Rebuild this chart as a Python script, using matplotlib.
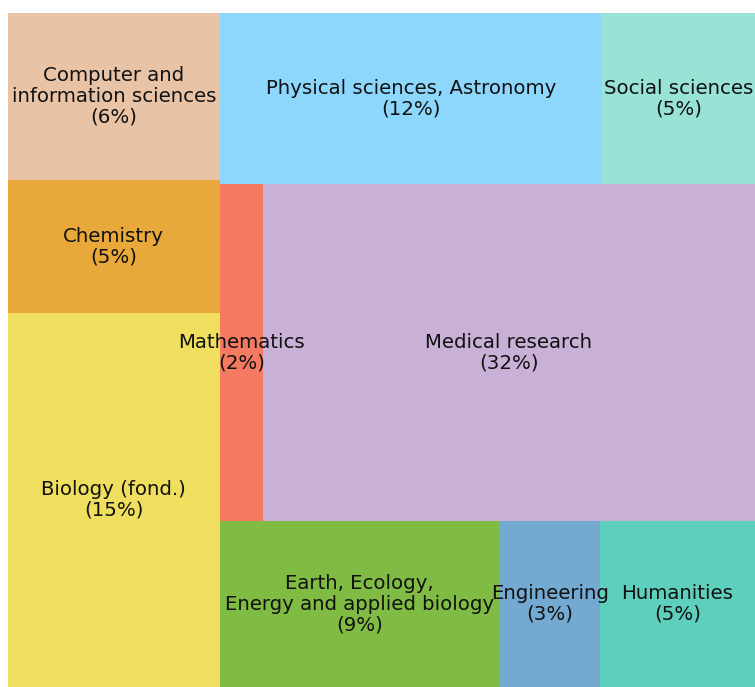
import matplotlib
matplotlib.use("Agg")
import matplotlib.pyplot as plt
from matplotlib.patches import Rectangle

# left column, top to bottom
left_names = ["Computer and\ninformation sciences", "Chemistry", "Biology (fond.)"]
left_sizes = [7.0, 5.6, 15.7]
left_pct = [6, 5, 15]
left_colors = ["#E8C3A6", "#E8A83A", "#F0DE5E"]

# right part, rows from top to bottom
row_names = [
    ["Physical sciences, Astronomy", "Social sciences"],
    ["Mathematics", "Medical research"],
    ["Earth, Ecology,\nEnergy and applied biology", "Engineering", "Humanities"],
]
row_sizes = [
    [13.0, 5.2],
    [2.9, 32.9],
    [9.2, 3.3, 5.1],
]
row_pct = [
    [12, 5],
    [2, 32],
    [9, 3, 5],
]
row_colors = [
    ["#8DD6FC", "#98E2D6"],
    ["#F47A62", "#C9B0D6"],
    ["#80BC44", "#74AAD2", "#5ECFBD"],
]

fig = plt.figure(figsize=(7.55, 6.87), dpi=100)
ax = fig.add_axes([8 / 755, 0, 747 / 755, 674 / 687])
total = sum(left_sizes) + sum(sum(r) for r in row_sizes)
W, H = 100.0, 100.0


def draw_box(x, y, w, h, name, pct, color):
    ax.add_patch(Rectangle((x, y), w, h, facecolor=color, edgecolor="none"))
    ax.text(x + w / 2, y + h / 2, f"{name}\n({pct}%)", ha="center", va="center",
            fontsize=14.2, color="#111111", linespacing=1.1)


# left column
lw = W * sum(left_sizes) / total
y = H
for name, s, p, c in zip(left_names, left_sizes, left_pct, left_colors):
    h = H * s / sum(left_sizes)
    y -= h
    draw_box(0, y, lw, h, name, p, c)

# right rows
rw = W - lw
right_total = sum(sum(r) for r in row_sizes)
y = H
for names, sizes, pcts, colors in zip(row_names, row_sizes, row_pct, row_colors):
    h = H * sum(sizes) / right_total
    y -= h
    x = lw
    for name, s, p, c in zip(names, sizes, pcts, colors):
        w = rw * s / sum(sizes)
        draw_box(x, y, w, h, name, p, c)
        x += w

ax.set_xlim(0, W)
ax.set_ylim(0, H)
ax.axis("off")
fig.savefig("out.png", dpi=100)
